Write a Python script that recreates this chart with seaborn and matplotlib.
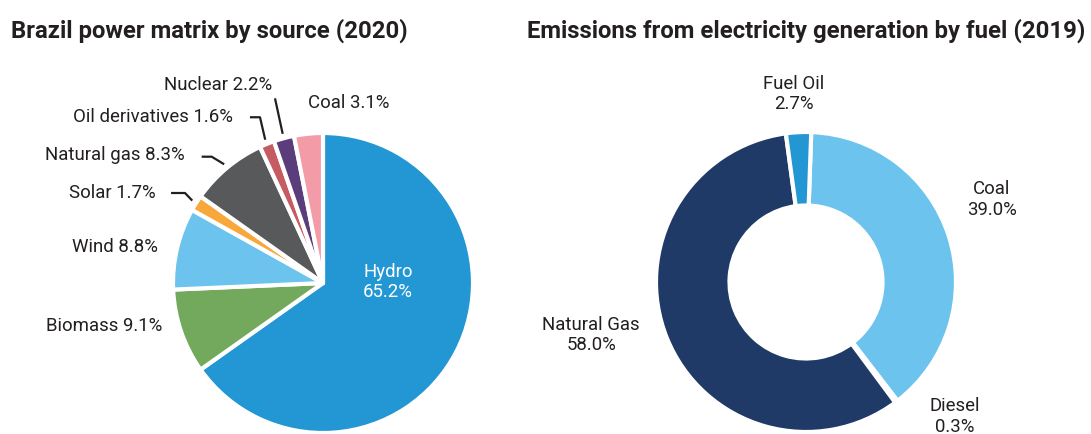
import matplotlib
matplotlib.use("Agg")
import matplotlib.pyplot as plt
import numpy as np
import seaborn as sns

# Brazil power matrix by source, 2020 (%)
power_sources = ["Hydro", "Biomass", "Wind", "Solar", "Natural gas",
                 "Oil derivatives", "Nuclear", "Coal"]
power_share = [65.2, 9.1, 8.8, 1.7, 8.3, 1.6, 2.2, 3.1]
power_colors = ["#2397d4", "#72a95c", "#6cc3ee", "#f8a73b", "#58595b",
                "#c65c62", "#5c3d7c", "#f39ca8"]

# Emissions from electricity generation by fuel, 2019 (%)
fuel_names = ["Coal", "Diesel", "Natural Gas", "Fuel Oil"]
fuel_share = [39.0, 0.3, 58.0, 2.7]
fuel_colors = ["#6cc3ee", "#4a78b0", "#1f3a66", "#2397d4"]

sns.set_theme(style="white")
plt.rcParams["font.family"] = ["Roboto", "DejaVu Sans"]
TEXT = "#231f20"

W, H = 1091, 434
fig = plt.figure(figsize=(W / 100, H / 100), dpi=100)
fig.patch.set_facecolor("white")

R_PX = 150.0  # pie radius in pixels


def make_axes(x0, x1, y_top, cx, cy):
    """Axes spanning pixel columns x0..x1 and rows y_top..H, with the pie
    centred at pixel (cx, cy) and one data unit = R_PX pixels."""
    ax = fig.add_axes([x0 / W, 0, (x1 - x0) / W, (H - y_top) / H])
    return ax, ((x0 - cx) / R_PX, (x1 - cx) / R_PX), ((cy - H) / R_PX, (cy - y_top) / R_PX)


def finish(ax, xlim, ylim):
    ax.set_xlim(*xlim)
    ax.set_ylim(*ylim)
    ax.set_aspect("auto")
    ax.set_axis_off()


# ---------- left: power matrix pie ----------
axL, xlimL, ylimL = make_axes(0, 545, 40, 323, 283)
wedgesL, _ = axL.pie(power_share, colors=sns.color_palette(power_colors),
                     startangle=90, counterclock=False, radius=1.0,
                     wedgeprops=dict(edgecolor="white", linewidth=3,
                                     joinstyle="round"))
finish(axL, xlimL, ylimL)

fs_lab = 13.4
label_pos = {
    "Biomass": (-1.075, -0.285),
    "Wind": (-1.098, 0.242),
    "Solar": (-1.113, 0.598),
    "Natural gas": (-0.92, 0.853),
    "Oil derivatives": (-0.60, 1.109),
    "Nuclear": (-0.342, 1.32),
}
for name, val in zip(power_sources, power_share):
    txt = f"{name} {val:.1f}%"
    if name == "Hydro":
        axL.text(0.433, 0.007, f"{name}\n{val:.1f}%", color="white",
                 fontsize=fs_lab, ha="center", va="center", linespacing=1.2)
    elif name == "Coal":
        axL.text(-0.10, 1.202, txt, color=TEXT, fontsize=fs_lab,
                 ha="left", va="center")
    else:
        x, y = label_pos[name]
        axL.text(x, y, txt, color=TEXT, fontsize=fs_lab, ha="right", va="center")

# leader lines from small wedges to their labels
leaders = {
    "Solar": [(-1.013, 0.60), (-0.92, 0.60)],
    "Natural gas": [(-0.809, 0.842), (-0.742, 0.842)],
    "Oil derivatives": [(-0.487, 1.105), (-0.42, 1.105)],
    "Nuclear": [(-0.32, 1.231)],
}
for w, name in zip(wedgesL, power_sources):
    if name not in leaders:
        continue
    mid = np.deg2rad((w.theta1 + w.theta2) / 2)
    end = (1.03 * np.cos(mid), 1.03 * np.sin(mid))
    pts = leaders[name] + [end]
    xs, ys = zip(*pts)
    axL.plot(xs, ys, color=TEXT, lw=1.6, solid_capstyle="butt",
             solid_joinstyle="round", clip_on=False)

# ---------- right: emissions donut ----------
axR, xlimR, ylimR = make_axes(545, 1091, 40, 806, 282)
wedgesR, _ = axR.pie(fuel_share, colors=sns.color_palette(fuel_colors),
                     startangle=88, counterclock=False, radius=1.0,
                     wedgeprops=dict(width=0.49, edgecolor="white", linewidth=3,
                                     joinstyle="round"))
finish(axR, xlimR, ylimR)

donut_pos = {
    "Coal": (1.238, 0.55),
    "Diesel": (0.993, -0.897),
    "Natural Gas": (-1.433, -0.353),
    "Fuel Oil": (-0.08, 1.253),
}
for name, val in zip(fuel_names, fuel_share):
    x, y = donut_pos[name]
    axR.text(x, y, f"{name}\n{val:.1f}%", color=TEXT, fontsize=fs_lab,
             ha="center", va="center", linespacing=1.2)

# ---------- titles ----------
fig.text(11 / W, 1 - 38 / H, "Brazil power matrix by source (2020)",
         fontsize=17.2, fontweight="bold", color=TEXT, ha="left", va="baseline")
fig.text(527 / W, 1 - 38 / H, "Emissions from electricity generation by fuel (2019)",
         fontsize=17.2, fontweight="bold", color=TEXT, ha="left", va="baseline")

fig.savefig("out.png", dpi=100, facecolor="white")
